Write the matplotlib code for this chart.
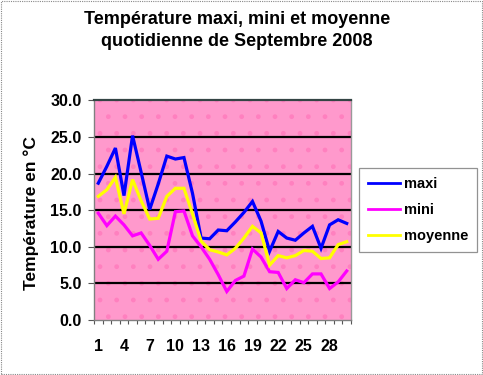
import matplotlib
matplotlib.use("Agg")
import matplotlib.pyplot as plt
from matplotlib.patches import Rectangle
import numpy as np

days = list(range(1, 31))
maxi = [18.7, 21.0, 23.5, 17.0, 25.2, 20.2, 15.1, 18.6, 22.4, 22.0, 22.2, 17.3,
        11.2, 11.1, 12.3, 12.2, 13.4, 14.7, 16.2, 13.5, 9.4, 12.1, 11.2, 10.9,
        11.9, 12.8, 9.8, 13.0, 13.7, 13.2]
mini = [14.6, 12.9, 14.2, 13.0, 11.5, 11.9, 10.2, 8.3, 9.4, 14.8, 14.9, 11.5,
        10.0, 8.3, 6.2, 3.9, 5.4, 6.0, 9.7, 8.6, 6.6, 6.5, 4.3, 5.5,
        5.1, 6.3, 6.3, 4.3, 5.2, 6.7]
moyenne = [16.9, 17.8, 19.5, 14.5, 19.2, 16.3, 13.8, 13.9, 16.9, 18.0, 18.0, 14.5,
           10.8, 9.6, 9.3, 8.9, 9.8, 11.2, 12.8, 11.9, 7.5, 8.8, 8.5, 8.8,
           9.5, 9.4, 8.4, 8.5, 10.3, 10.7]
series_names = ["maxi", "mini", "moyenne"]
series_colors = ["#0000FF", "#FF00FF", "#FFFF00"]
title_lines = ["Température maxi, mini et moyenne", "quotidienne de Septembre 2008"]
ylabel = "Température en °C"
yticks = [0, 5, 10, 15, 20, 25, 30]
xlabel_days = [1, 4, 7, 10, 13, 16, 19, 22, 25, 28]

plt.rcParams['font.family'] = ['Liberation Sans', 'DejaVu Sans']
plt.rcParams['hatch.linewidth'] = 1.0

fig = plt.figure(figsize=(4.83, 3.75), dpi=100)
W, H = 483, 375
ax = fig.add_axes([94 / W, 1 - 320 / H, (351 - 94) / W, (320 - 100.5) / H])

ax.set_facecolor('#FF99CC')
bg = Rectangle((0, 0), 1, 1, transform=ax.transAxes, facecolor='none',
               edgecolor='#FF80BF', hatch='.', linewidth=0, zorder=0.5)
ax.add_patch(bg)

x = np.arange(len(days))
for vals, name, col in zip([maxi, mini, moyenne], series_names, series_colors):
    ax.plot(x, vals, color=col, lw=2.3, label=name, zorder=3, solid_joinstyle='miter')

ax.set_xlim(-0.5, len(days) - 0.5)
ax.set_ylim(0, 30)
ax.set_yticks(yticks)
ax.set_yticklabels([f"{v:.1f}" for v in yticks], fontsize=11.5, fontweight='bold')
for v in yticks[1:-1]:
    ax.axhline(v, color='black', lw=1.6, zorder=2)

ax.set_xticks(np.arange(-0.5, len(days), 1.0), minor=False)
ax.set_xticklabels([])
ax.set_xticks([days.index(d) for d in xlabel_days], minor=True)
ax.set_xticklabels([str(d) for d in xlabel_days], minor=True, fontsize=11.5,
                   fontweight='bold')
ax.tick_params(axis='x', which='major', length=3, width=0.8, color='#555555', direction='out')
ax.tick_params(axis='x', which='minor', length=0, pad=14)
ax.tick_params(axis='y', length=4, width=0.8, color='#555555', direction='out', pad=5)

for s in ['left', 'bottom']:
    ax.spines[s].set_color('#808080')
    ax.spines[s].set_linewidth(1.0)
ax.spines['top'].set_color('#334444')
ax.spines['top'].set_linewidth(1.6)
ax.spines['right'].set_color('#999999')
ax.spines['right'].set_linewidth(1.0)
ax.spines['right'].set_linestyle((0, (1, 1)))

fig.text(237 / W, 1 - 19 / H, title_lines[0], ha='center', va='center', fontsize=13,
         fontweight='bold')
fig.text(237 / W, 1 - 42 / H, title_lines[1], ha='center', va='center', fontsize=13,
         fontweight='bold')
fig.text(31 / W, 1 - 213 / H, ylabel, rotation=90, ha='center', va='center',
         fontsize=12.5, fontweight='bold')

leg = fig.legend(loc='center', bbox_to_anchor=(418 / W, 1 - 210 / H),
                 frameon=True, fancybox=False, edgecolor='#777777',
                 prop={'weight': 'bold', 'size': 10.5},
                 handlelength=2.2, handletextpad=0.3, labelspacing=0.85,
                 borderpad=0.6)
leg.get_frame().set_linewidth(0.9)
for line in leg.get_lines():
    line.set_linewidth(2.0)

fig.patches.append(Rectangle((0.002, 0.003), 0.995, 0.994, transform=fig.transFigure,
                             fill=False, edgecolor='#888888', lw=0.8,
                             linestyle=(0, (1, 1))))

fig.savefig('out.png', dpi=100)
